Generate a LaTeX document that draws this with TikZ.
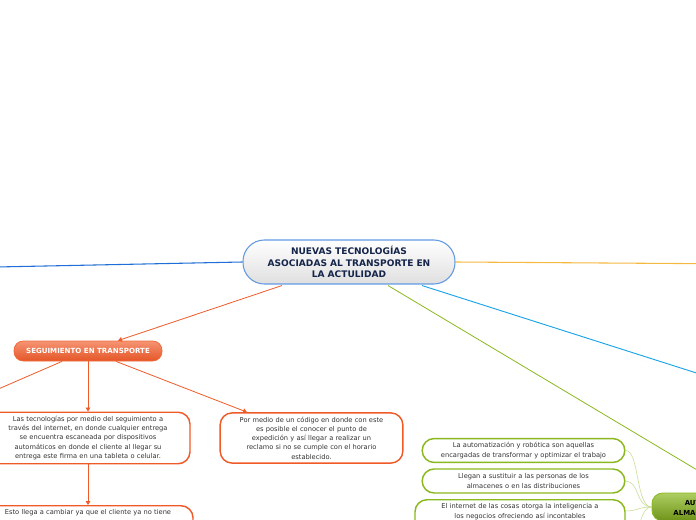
\documentclass[tikz,border=0pt]{standalone}
\usepackage{fontspec}
\setmainfont{DejaVu Sans}
\usetikzlibrary{arrows.meta, positioning, calc}
\usepackage{xcolor}

\definecolor{mmorange}{HTML}{F05A28}
\definecolor{mmblue}{HTML}{1F6FD6}
\definecolor{mmyellow}{HTML}{F5B942}
\definecolor{mmcyan}{HTML}{1AA3E8}
\definecolor{mmgreen}{HTML}{8AB81E}
\definecolor{mmnavy}{HTML}{14244A}
\definecolor{mmtext}{HTML}{333333}

\begin{document}
\begin{tikzpicture}[
        x=0.75pt, y=-0.75pt,
        mainbox/.style={rectangle, draw=mmblue!70, line width=0.8pt, top color=white, bottom color=gray!25, rounded corners=16pt, minimum width=159pt, minimum height=33pt, text width=153pt, align=center, inner sep=3pt, text=mmnavy, font=\bfseries\fontsize{6.8}{8.6}\selectfont},
        topicbox/.style={rectangle, draw=mmorange!90, line width=0.6pt, top color=mmorange!65, bottom color=mmorange!95!black, rounded corners=7pt, minimum width=111pt, minimum height=15pt, text=white, font=\bfseries\fontsize{5.3}{6}\selectfont},
        greentopic/.style={rectangle, draw=mmgreen, line width=0.6pt, top color=mmgreen!70, bottom color=mmgreen!80!black, rounded corners=8pt, minimum width=124.5pt, minimum height=21pt, text width=118pt, align=center, inner sep=3pt, font=\bfseries\fontsize{5.2}{7.5}\selectfont},
        orangebox/.style={rectangle, draw=mmorange, line width=1.1pt, fill=white, rounded corners=9pt, align=center, inner sep=3pt, text=mmtext, font=\fontsize{5}{6.9}\selectfont},
        greenbox/.style={rectangle, draw=mmgreen, line width=1.1pt, fill=white, rounded corners=9pt, align=center, inner sep=3pt, text=mmtext, font=\fontsize{5}{6.9}\selectfont},
        arrow/.style={-{Triangle[length=3pt, width=3.5pt]}, line width=0.6pt, draw=mmorange},
        twig/.style={line width=0.4pt, draw=mmgreen!50}
    ]
    \clip (0,0) rectangle (696,520);

    % The Boxes
    \node (central) [mainbox] at (349,262) {NUEVAS TECNOLOGÍAS\\ASOCIADAS AL TRANSPORTE EN\\LA ACTULIDAD};

    \node (seguimiento) [topicbox] at (88,351) {SEGUIMIENTO EN TRANSPORTE};

    \node (tecno) [orangebox, minimum width=153pt, minimum height=37.5pt, text width=147pt] at (88,438) {Las tecnologías por medio del seguimiento a\\través del internet, en donde cualquier entrega\\se encuentra escaneada por dispositivos\\automáticos en donde el cliente al llegar su\\entrega este firma en una tableta o celular.};
    \node (codigo) [orangebox, minimum width=137pt, minimum height=37.5pt, text width=131pt] at (311.5,438) {Por medio de un código en donde con este\\es posible el conocer el punto de\\expedición y así llegar a realizar un\\reclamo si no se cumple con el horario\\establecido.};
    \node (cliente) [orangebox, anchor=north, minimum width=157.5pt, text width=151pt, text depth=30pt] at (88,505) {Esto llega a cambiar ya que el cliente ya no tiene};

    \node (almacen) [greentopic] at (735,507) {AUTOMATIZACIÓN EN LOS\\ALMACENES Y DISTRIBUCIONES};
    \node (auto1) [greenbox, minimum width=152pt, minimum height=17.6pt, text width=146pt] at (523.5,450.5) {La automatización y robótica son aquellas\\encargadas de transformar y optimizar el trabajo};
    \node (auto2) [greenbox, minimum width=152pt, minimum height=18pt, text width=146pt] at (523.5,481) {Llegan a sustituir a las personas de los\\almacenes o en las distribuciones};
    \node (auto3) [greenbox, anchor=north, minimum width=157.5pt, text width=151pt, text depth=30pt] at (520,499) {El internet de las cosas otorga la inteligencia a\\los negocios ofreciendo así incontables};

    % Free ends of the branches that leave the picture
    \coordinate (leftT) at (-250,272);
    \coordinate (rightT) at (900,265);
    \coordinate (cyanT) at (800,406);
    \coordinate (segL) at (-57,413);
    \coordinate (twigD) at (628,560);

    % The main branches
    \draw [mmblue, line width=0.8pt] (central.west) -- (leftT);
    \draw [mmyellow, line width=0.8pt] (central.east) -- (rightT);
    \draw [mmcyan, line width=0.7pt] ($(central.south)+(73,1)$) -- (cyanT);
    \draw [mmgreen, line width=0.6pt] ($(central.south)+(39,1)$) -- (almacen.north);
    \draw [arrow] ($(central.south)+(-67,1)$) -- ($(seguimiento.north)+(30,0)$);

    % Seguimiento en transporte
    \draw [arrow] ($(seguimiento.south)+(-26,0)$) -- (segL);
    \draw [arrow] (seguimiento.south) -- (tecno.north);
    \draw [arrow] ($(seguimiento.south)+(28,0)$) -- ($(codigo.north)+(-64.5,0)$);
    \draw [arrow] (tecno.south) -- (cliente.north);

    % Automatizacion
    \draw [twig] (almacen.west) .. controls +(-16,0) and +(14,0) .. (auto1.east);
    \draw [twig] (almacen.west) .. controls +(-16,0) and +(14,0) .. (auto2.east);
    \draw [twig] (almacen.west) .. controls +(-14,0) and +(12,0) .. ($(auto3.north east)+(0,12)$);
    \draw [twig] (almacen.west) .. controls +(-16,0) and +(10,0) .. (twigD);

\end{tikzpicture}
\end{document}
